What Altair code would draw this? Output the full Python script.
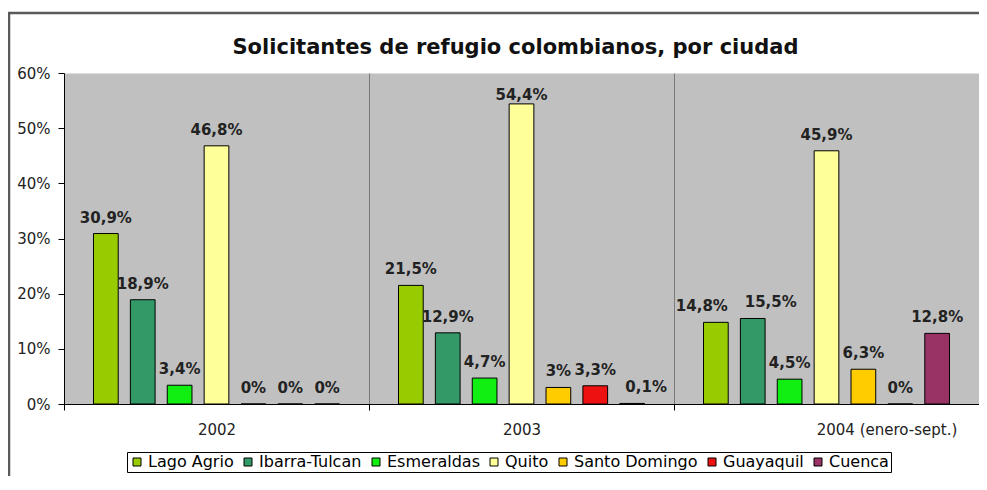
import altair as alt
import pandas as pd

years = ["2002", "2003", "2004"]
year_labels = ["2002", "2003", "2004 (enero-sept.)"]
cities = ["Lago Agrio", "Ibarra-Tulcan", "Esmeraldas", "Quito",
          "Santo Domingo", "Guayaquil", "Cuenca"]
colors = ["#99CC00", "#339966", "#11EE11", "#FFFF99",
          "#FFCC00", "#EE1111", "#993366"]
v2002 = [30.9, 18.9, 3.4, 46.8, 0, 0, 0]
v2003 = [21.5, 12.9, 4.7, 54.4, 3.0, 3.3, 0.1]
v2004 = [14.8, 15.5, 4.5, 45.9, 6.3, 0, 12.8]

rows = []
for y, vals in zip(years, [v2002, v2003, v2004]):
    for c, v in zip(cities, vals):
        rows.append({"year": y, "city": c, "value": v / 100.0,
                     "label": f"{v:g}".replace(".", ",") + "%"})
df = pd.DataFrame(rows)

W, H = 915, 331
FONT = "DejaVu Sans"

label_map = "{" + ",".join(f"'{y}': '{l}'" for y, l in zip(years, year_labels)) + "}"

base = alt.Chart(df).encode(
    x=alt.X("year:N", sort=years,
            scale=alt.Scale(paddingInner=0, paddingOuter=0),
            axis=alt.Axis(title=None, labelAngle=0, grid=True, tickBand="extent",
                          gridColor="#7a7a7a", gridWidth=1,
                          domainColor="black", tickColor="black", tickSize=6,
                          labelPadding=12, labelFont=FONT, labelFontSize=15,
                          labelColor="#222",
                          labelExpr=label_map + "[datum.value]",
                          labelOffset={"condition": {"test": "datum.value == '2004'", "value": 60}, "value": 0})),
    xOffset=alt.XOffset("city:N", sort=cities,
                        scale=alt.Scale(paddingInner=0.33, paddingOuter=0.8)),
    y=alt.Y("value:Q", scale=alt.Scale(domain=[0, 0.6]),
            axis=alt.Axis(title=None, format=".0%", values=[0, 0.1, 0.2, 0.3, 0.4, 0.5, 0.6],
                          grid=False, domainColor="black", tickColor="black", tickSize=6,
                          labelFont=FONT, labelFontSize=15, labelColor="#222", labelPadding=8)),
)

bars = base.mark_bar(stroke="black", strokeWidth=1).encode(
    color=alt.Color("city:N", sort=cities,
                    scale=alt.Scale(domain=cities, range=colors),
                    legend=alt.Legend(title=None, orient="none", legendX=63, legendY=379,
                                      direction="horizontal", symbolType="square",
                                      symbolSize=64, symbolStrokeColor="black",
                                      symbolStrokeWidth=1, labelFont=FONT, labelFontSize=16,
                                      labelColor="black", strokeColor="black",
                                      fillColor="white", padding=2, columnPadding=6,
                                      labelOffset=3)),
)

txt_style = dict(font=FONT, fontWeight="bold", fontSize=15, baseline="alphabetic", color="#222")

is_la04 = "datum.year == '2004' && datum.city == 'Lago Agrio'"
is_it04 = "datum.year == '2004' && datum.city == 'Ibarra-Tulcan'"
is_cu03 = "datum.year == '2003' && datum.city == 'Cuenca'"
is_q03 = "datum.year == '2003' && datum.city == 'Quito'"
special = f"({is_la04}) || ({is_it04}) || ({is_cu03}) || ({is_q03})"

text = base.mark_text(dy=-11, **txt_style).encode(text="label:N").transform_filter(f"!({special})")
text_la = base.mark_text(dy=-11, dx=-14, **txt_style).encode(text="label:N").transform_filter(is_la04)
text_it = base.mark_text(dy=-11, dx=18, **txt_style).encode(text="label:N").transform_filter(is_it04)
text_cu = base.mark_text(dy=-11, dx=14, **txt_style).encode(text="label:N").transform_filter(is_cu03)
text_q = base.mark_text(dy=-4, **txt_style).encode(text="label:N").transform_filter(is_q03)

frame = alt.Chart(alt.Data(values=[{"a": 1}])).mark_rect(
    fillOpacity=0, stroke="#5a5a5a", strokeWidth=2.5).encode(
    x=alt.value(-55), x2=alt.value(W + 12), y=alt.value(-60), y2=alt.value(H + 110))

chart = alt.layer(bars, text, text_la, text_it, text_cu, text_q, frame).properties(
    width=W, height=H,
    title=alt.TitleParams("Solicitantes de refugio colombianos, por ciudad",
                          font=FONT, fontSize=21, fontWeight="bold", color="#111",
                          offset=-67, baseline="bottom", anchor="middle", dx=-6),
    autosize=alt.AutoSizeParams(type="none"),
    padding={"left": 56, "top": 65, "right": 0, "bottom": 72},
).configure_view(fill="#C0C0C0", stroke="transparent")

chart.save("out.html", embed_options={"renderer": "svg", "actions": False})
